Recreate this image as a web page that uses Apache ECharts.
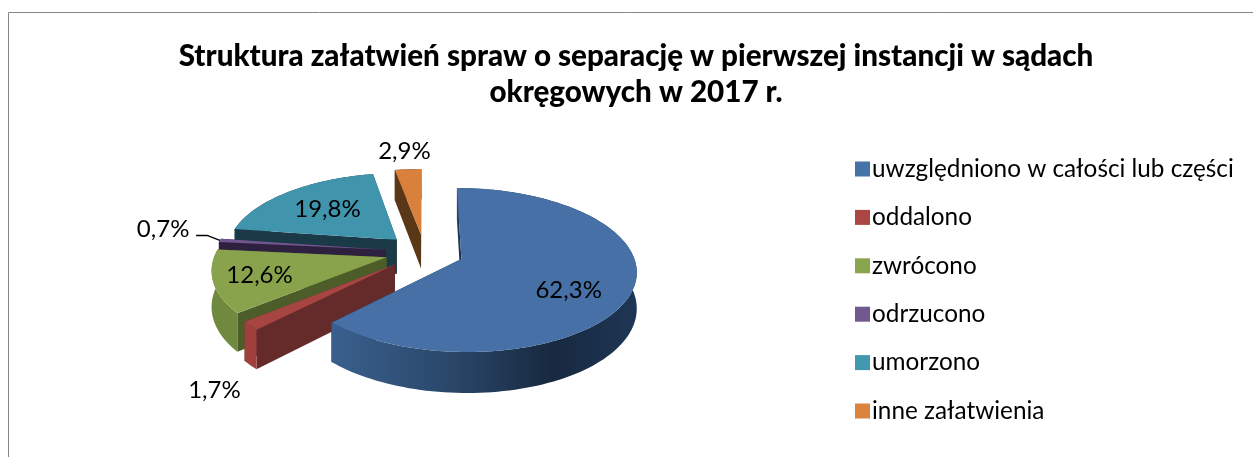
<!DOCTYPE html>
<html>
<head>
<meta charset="utf-8">
<style>
  html, body { margin: 0; padding: 0; background: #fff; }
  #chart { width: 1253px; height: 457px; }
</style>
<script src="https://cdn.jsdelivr.net/npm/echarts@6/dist/echarts.min.js"></script>
</head>
<body>
<div id="chart"></div>
<script>
const categories = ['uwzględniono w całości lub części', 'oddalono', 'zwrócono', 'odrzucono', 'umorzono', 'inne załatwienia']
const shares = [62.3, 1.7, 12.6, 0.7, 19.8, 2.9]
const shareLabels = ['62,3%', '1,7%', '12,6%', '0,7%', '19,8%', '2,9%']
const swatchColors = ['#4573a7', '#aa4644', '#89a54e', '#71588f', '#4198af', '#db843d']
const topColors = ['#4670a6', '#a64542', '#88a34b', '#70568e', '#4095ad', '#d8803c']
const faceColors = ['#1d3553', '#652b2a', '#4d5d2a', '#2e2140', '#1a3a47', '#5a3717']
const rimColors = ['#1d3553', '#a0403d', '#6f8a3e', '#2e2140', '#1a3a47', '#5a3717']
// 标签沿扇区中线的位置，dy 为像素偏移
const labelRadius = [0.64, 1.22, 0.74, 1.35, 0.62, 1.33]
const labelShift = [11, 43, 0, -8, 0, 0]
// 从后往前绘制
const drawOrder = [5, 4, 3, 2, 1, 0]

const pie = { cx: 424.5, cy: 252, rx: 171, ry: 78.6, k: 0.1345, depth: 35, explode: 0.23 }
const total = shares.reduce((s, v) => s + v, 0)
const startAngles = []
shares.reduce((sum, v, i) => {
  startAngles[i] = (sum / total) * Math.PI * 2
  return sum + v
}, 0)

function project(a, b, z) {
  const w = 1 + pie.k * b
  return [pie.cx + (pie.rx * a) / w, pie.cy - (pie.ry * b) / w + z / w]
}

function slicePoint(i, t, angle, z) {
  const mid = startAngles[i] + (shares[i] / total) * Math.PI
  const a = pie.explode * Math.sin(mid) + t * Math.sin(angle)
  const b = pie.explode * Math.cos(mid) + t * Math.cos(angle)
  return project(a, b, z)
}

function arcPoints(i, z) {
  const from = startAngles[i]
  const to = from + (shares[i] / total) * Math.PI * 2
  const steps = Math.max(4, Math.ceil((to - from) / 0.03))
  const pts = []
  for (let s = 0; s <= steps; s++) {
    pts.push(slicePoint(i, 1, from + ((to - from) * s) / steps, z))
  }
  return pts
}

function rimFill(i) {
  if (i !== 0) return rimColors[i]
  // 主扇区外侧的明暗渐变
  return new echarts.graphic.LinearGradient(334, 0, 638, 0, [
    { offset: 0, color: '#3a5f8d' },
    { offset: 0.4, color: '#294668' },
    { offset: 0.72, color: '#17293f' },
    { offset: 1, color: '#1e3656' },
  ], true)
}

function renderSlice(i) {
  const top = arcPoints(i, 0)
  const bottom = arcPoints(i, pie.depth)
  const apex = slicePoint(i, 0, 0, 0)
  const apexLow = slicePoint(i, 0, 0, pie.depth)
  const quad = (p, fill) => ({ type: 'polygon', shape: { points: p }, style: { fill: fill } })
  const children = [
    quad([apex, apexLow, bottom[bottom.length - 1], top[top.length - 1]], faceColors[i]),
    quad([apex, apexLow, bottom[0], top[0]], faceColors[i]),
    quad(top.concat(bottom.slice().reverse()), rimFill(i)),
    quad([apex].concat(top), topColors[i]),
  ]
  return { type: 'group', children: children }
}

function renderLabel(i) {
  const mid = startAngles[i] + (shares[i] / total) * Math.PI
  const p = slicePoint(i, labelRadius[i], mid, labelShift[i])
  const children = [{
    type: 'text',
    x: p[0],
    y: p[1],
    style: {
      text: shareLabels[i],
      fill: '#000',
      font: '24px Lato',
      align: 'center',
      verticalAlign: 'middle',
    },
  }]
  if (i === 3) {
    // 0,7% 的引导线
    children.push({
      type: 'polyline',
      shape: { points: [[p[0] + 33, p[1] + 6], [p[0] + 44, p[1] + 6], slicePoint(i, 1, mid, 0)] },
      style: { stroke: '#000', lineWidth: 1.5, fill: null },
    })
  }
  return { type: 'group', children: children }
}

const sliceSeries = drawOrder.map((i, order) => ({
  name: categories[i],
  type: 'custom',
  coordinateSystem: 'none',
  data: [shares[i]],
  z: 2 + order,
  itemStyle: { color: swatchColors[i] },
  renderItem: () => renderSlice(i),
}))

const labelSeries = {
  name: 'etykiety',
  type: 'custom',
  coordinateSystem: 'none',
  data: shares,
  z: 20,
  silent: true,
  renderItem: params => renderLabel(params.dataIndex),
}

const myChart = echarts.init(document.getElementById('chart'))
myChart.setOption({
  animation: false,
  backgroundColor: '#fff',
  title: {
    text: 'Struktura załatwień spraw o separację w pierwszej instancji w sądach\nokręgowych w 2017 r.',
    left: 631,
    top: 33,
    textAlign: 'center',
    textStyle: { fontFamily: 'Lato', fontWeight: 900, fontSize: 29.6, lineHeight: 36, color: '#000' },
  },
  legend: {
    data: categories,
    orient: 'vertical',
    left: 850,
    top: 150,
    icon: 'rect',
    itemWidth: 15,
    itemHeight: 15,
    itemGap: 20.4,
    selectedMode: false,
    textStyle: { fontFamily: 'Lato', fontSize: 24.3, lineHeight: 28, color: '#000', padding: [0, 0, 0, -3] },
  },
  graphic: [
    { type: 'line', shape: { x1: 8.5, y1: 12.5, x2: 1253, y2: 12.5 }, style: { stroke: '#868686', lineWidth: 1 } },
    { type: 'line', shape: { x1: 8.5, y1: 12.5, x2: 8.5, y2: 457 }, style: { stroke: '#868686', lineWidth: 1 } },
  ],
  series: sliceSeries.concat(labelSeries),
})
</script>
</body>
</html>
